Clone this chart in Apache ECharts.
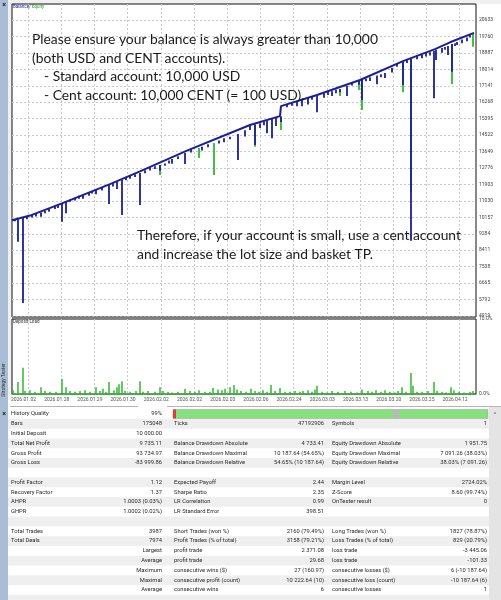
<!DOCTYPE html>
<html><head><meta charset="utf-8">
<script src="https://cdn.jsdelivr.net/npm/echarts@6/dist/echarts.min.js"></script>
<style>html,body{margin:0;padding:0;background:#fff;}#c{width:501px;height:600px;}</style>
</head><body><div id="c"></div>
<script>
// ---------- data ----------
const dateLabels = ['2026.01.02','2026.01.28','2026.01.29','2026.01.30','2026.02.02','2026.02.02','2026.02.03','2026.02.06','2026.02.24','2026.03.03','2026.03.13','2026.03.20','2026.03.25','2026.04.12'];
const dateTickPos = [16, 49.2, 82.4, 115.6, 148.8, 182, 215.2, 248.4, 281.6, 314.8, 348, 381.2, 414.4, 447.6];
const yTickLabels = [4919, 5792, 6665, 7538, 8411, 9284, 10157, 11030, 11903, 12776, 13649, 14522, 15395, 16268, 17141, 18014, 18887, 19760, 20633];
const loadTicks = [0, 10];

const balanceX = [0, 18, 50, 98, 128, 175, 238, 268, 269, 305, 348, 391, 423, 438, 462];
const balanceY = [10000, 10250, 10900, 11920, 12600, 13700, 15060, 15530, 16060, 16650, 17450, 18450, 19090, 19450, 19950];

// equity spikes: position, start (balance level), lowest blue, lowest green
const spikeX =      [6, 11, 20, 24, 29, 37, 43, 50, 54, 63, 71, 77, 84, 90, 97, 105, 110, 118, 128, 138, 148, 153, 160, 173, 187, 190, 202, 212, 226, 233, 243, 248, 255, 260, 264, 269, 285, 290, 296, 305, 312, 320, 328, 335, 347, 350, 358, 365, 373, 380, 391, 399, 405, 414, 422, 424, 430, 436, 440, 445, 450, 455, 461,
                     3, 15, 33, 46, 58, 67, 80, 101, 114, 123, 133, 143, 157, 166, 179, 196, 207, 218, 238, 252, 275, 280, 300, 316, 324, 340, 354, 369, 385, 395, 410, 418, 433, 443, 458];
const spikeTop =    [10066, 10119, 10280, 10330, 10411, 10600, 10740, 10916, 11006, 11200, 11350, 11480, 11632, 11750, 11898, 12058, 12137, 12380, 12509, 12800, 12934, 13013, 13250, 13571, 13836, 13900, 14102, 14350, 14580, 14780, 15084, 15150, 15296, 15376, 15450, 15509, 16320, 16400, 16500, 16624, 16750, 16850, 16969, 17128, 17394, 17447, 17600, 17686, 17819, 18100, 18403, 18562, 18750, 18900, 18987, 19040, 19150, 19252, 19359, 19465, 19600, 19700, 19943,
                     10060, 10200, 10500, 10800, 11100, 11300, 11560, 11980, 12270, 12440, 12660, 12870, 13180, 13400, 13780, 14040, 14230, 14430, 15060, 15250, 16170, 16250, 16560, 16810, 16930, 17300, 17530, 17750, 18300, 18520, 18790, 18920, 19200, 19400, 19850];
const spikeBlueLow= [8861, 5606, 10150, 10200, 10188, 10450, 10600, 9923, 10369, 11050, 11150, 11300, 11378, 11580, 10863, 11659, 10278, 12200, 10810, 12650, 12631, 12896, 13000, 12987, null, 13700, null, 14150, 13199, 14450, 13996, 14900, 14617, 14351, 15000, 15217, 16050, 16050, 16150, 15732, 16500, 16600, 16800, 16597, 17200, 16385, 17400, 17219, 17553, 17850, 17182, 8914, 18550, 18700, 16475, 18509, 18900, 18774, 17888, 19300, 19400, 19500, null,
                     9950, 10050, 10380, 10650, 10980, 11150, 11420, 11800, 12120, 12300, 12500, 12720, 13020, 13250, 13600, 13880, 14080, 14300, 14800, 15050, 16000, 16080, 16400, 16650, 16750, 17150, 17380, 17600, 18150, 18350, 18600, 18750, 19050, 19250, 19700];
const spikeGreenLow=[null, null, null, null, null, null, null, null, null, null, null, null, null, null, null, null, null, null, null, null, 12403, null, null, null, 13305, null, 12403, null, null, null, 13900, null, null, null, null, 14792, null, null, null, null, null, null, 16600, null, 16916, 15854, null, null, null, null, 16794, 11500, null, null, null, null, null, null, 17219, null, null, null, 19215,
                     null, null, null, null, null, null, null, null, null, null, null, null, null, null, null, null, null, null, null, null, null, null, null, null, null, null, null, null, null, null, null, null, null, null, null];

// deposit load (%)
const loadX = [1, 6, 11, 13, 18, 23, 29, 33, 38, 44, 50, 54, 58, 63, 68, 73, 78, 84, 88, 91, 94, 97, 102, 105, 107, 110, 113, 118, 124, 128, 131, 136, 143, 148, 151, 156, 160, 166, 173, 178, 183, 187, 193, 198, 201, 206, 210, 213, 218, 222, 225, 229, 234, 239, 243, 247, 251, 255, 259, 263, 268, 273, 278, 283, 288, 291, 296, 300, 303, 305, 310, 315, 320, 326, 333, 339, 345, 350, 356, 360, 364, 369, 373, 378, 383, 386, 390, 394, 399, 401, 405, 410, 416, 422, 425, 430, 434, 439, 442, 447, 452, 458, 461];
const loadVal = [0.5, 1.6, 3.5, 0.4, 0.5, 0.3, 0.9, 0.4, 0.3, 0.3, 2.0, 0.9, 0.4, 0.3, 0.4, 0.5, 0.3, 0.9, 0.4, 0.7, 0.3, 1.6, 0.5, 0.9, 1.3, 1.7, 0.4, 0.3, 0.4, 1.7, 0.3, 0.4, 0.3, 0.9, 0.4, 0.3, 0.2, 0.3, 0.7, 0.4, 0.3, 0.5, 0.3, 0.3, 0.8, 0.6, 0.5, 0.7, 0.9, 1.2, 0.6, 0.4, 0.3, 0.7, 0.4, 0.3, 0.5, 0.3, 1.2, 0.4, 0.8, 0.3, 0.3, 0.4, 0.3, 0.4, 0.5, 0.3, 0.6, 1.1, 0.3, 0.2, 0.4, 0.3, 0.4, 0.3, 0.2, 0.6, 0.4, 0.3, 0.5, 0.3, 0.5, 0.3, 0.2, 0.4, 0.9, 0.3, 2.8, 1.1, 0.3, 0.3, 0.4, 1.6, 0.4, 0.3, 0.2, 0.9, 0.5, 0.3, 0.2, 0.3, 0.4];

// report table
const col1 = [['History Quality','99%'],['Bars','175048'],['Initial Deposit','10 000.00'],['Total Net Profit','9 735.11'],['Gross Profit','93 734.97'],['Gross Loss','-83 999.86'],['',''],['Profit Factor','1.12'],['Recovery Factor','1.37'],['AHPR','1.0003 (0.03%)'],['GHPR','1.0002 (0.02%)'],['',''],['Total Trades','3987'],['Total Deals','7974'],['','Largest'],['','Average'],['','Maximum'],['','Maximal'],['','Average'],['','']];
const col2 = [['',''],['Ticks','47192906'],['',''],['Balance Drawdown Absolute','4 733.41'],['Balance Drawdown Maximal','10 187.64 (54.65%)'],['Balance Drawdown Relative','54.65% (10 187.64)'],['',''],['Expected Payoff','2.44'],['Sharpe Ratio','2.35'],['LR Correlation','0.99'],['LR Standard Error','398.51'],['',''],['Short Trades (won %)','2160 (79.49%)'],['Profit Trades (% of total)','3158 (79.21%)'],['profit trade','2 371.08'],['profit trade','29.68'],['consecutive wins ($)','27 (160.97)'],['consecutive profit (count)','10 222.64 (10)'],['consecutive wins','6'],['','']];
const col3 = [['',''],['Symbols','1'],['',''],['Equity Drawdown Absolute','1 951.75'],['Equity Drawdown Maximal','7 091.26 (38.03%)'],['Equity Drawdown Relative','38.03% (7 091.26)'],['',''],['Margin Level','2724.02%'],['Z-Score','8.60 (99.74%)'],['OnTester result','0'],['',''],['',''],['Long Trades (won %)','1827 (78.87%)'],['Loss Trades (% of total)','829 (20.79%)'],['loss trade','-3 445.06'],['loss trade','-101.33'],['consecutive losses ($)','6 (-10 187.64)'],['consecutive loss (count)','-10 187.64 (6)'],['consecutive losses','1'],['','']];

const noteTop = ['Please ensure your balance is always greater than 10,000', '(both USD and CENT accounts).', '- Standard account: 10,000 USD', '- Cent account: 10,000 CENT (= 100 USD).'];
const noteBottom = ['Therefore, if your account is small, use a cent account', 'and increase the lot size and basket TP.'];

// ---------- drawing ----------
const BLUE = '#1b1f94', GREEN = '#2fb82f';
const chart = echarts.init(document.getElementById('c'), null, {renderer: 'canvas'});

function spikeSeries(lows, color, z) {
  const data = [];
  spikeX.forEach((x, i) => { if (lows[i] != null) data.push([x, spikeTop[i], lows[i]]); });
  return {
    type: 'custom', xAxisIndex: 0, yAxisIndex: 0, z: z, silent: true, data: data,
    encode: {x: 0, y: [1, 2]},
    renderItem: (params, api) => {
      const a = api.coord([api.value(0), api.value(1)]);
      const b = api.coord([api.value(0), api.value(2)]);
      return {type: 'line', shape: {x1: a[0], y1: a[1], x2: b[0], y2: b[1]},
        style: {stroke: color, lineWidth: 1.8}};
    }
  };
}

const G = [];
const tf = (px) => px + 'px Roboto';
// frame pieces
G.push({type: 'rect', z: -5, shape: {x: 0, y: 0, width: 501, height: 4}, style: {fill: '#f0f0f0'}});
G.push({type: 'rect', z: -5, shape: {x: 8, y: 0, width: 4, height: 400}, style: {fill: '#f0f0f0'}});
G.push({type: 'rect', z: 10, shape: {x: 0, y: 0, width: 8, height: 600}, style: {fill: '#a9bdd7'}});
G.push({type: 'text', z: 11, x: 4, y: 5, style: {text: '×', font: 'bold 7px Roboto', fill: '#222', textAlign: 'center', textVerticalAlign: 'middle'}});
G.push({type: 'text', z: 11, x: 4, y: 414, style: {text: '×', font: 'bold 7px Roboto', fill: '#222', textAlign: 'center', textVerticalAlign: 'middle'}});
G.push({type: 'text', z: 11, x: 4, y: 380, rotation: Math.PI / 2, style: {text: 'Strategy Tester', font: '5px Roboto', fill: '#333', textAlign: 'center', textVerticalAlign: 'middle'}});
G.push({type: 'rect', z: 20, shape: {x: 12, y: 316.5, width: 464, height: 2}, style: {fill: '#7a7a7a'}});
// legends inside panels
G.push({type: 'text', z: 20, x: 13, y: 7, style: {text: 'Balance', font: '4.5px Roboto', fill: '#2030b0', textVerticalAlign: 'middle'}});
G.push({type: 'text', z: 20, x: 29, y: 7, style: {text: '/', font: '4.5px Roboto', fill: '#555', textVerticalAlign: 'middle'}});
G.push({type: 'text', z: 20, x: 32, y: 7, style: {text: 'Equity', font: '4.5px Roboto', fill: '#2a9a2a', textVerticalAlign: 'middle'}});
G.push({type: 'text', z: 20, x: 13, y: 322, style: {text: 'Deposit Load', font: '4.5px Roboto', fill: '#333', textVerticalAlign: 'middle'}});
// notes
const noteFont = '13.85px Lato';
[[32, 40], [32, 58.5], [44, 77], [44, 96]].forEach((p, i) => {
  G.push({type: 'text', z: 50, x: p[0], y: p[1], style: {text: noteTop[i], font: noteFont, fill: '#1a1a1a', textVerticalAlign: 'middle'}});
});
[[137, 236], [137, 255]].forEach((p, i) => {
  G.push({type: 'text', z: 50, x: p[0], y: p[1], style: {text: noteBottom[i], font: noteFont, fill: '#1a1a1a', textVerticalAlign: 'middle'}});
});
// tab strip line
G.push({type: 'line', z: 5, shape: {x1: 10, y1: 406.5, x2: 138, y2: 406.5}, style: {stroke: '#b5b5b5', lineWidth: 1}});
G.push({type: 'line', z: 5, shape: {x1: 167, y1: 406.5, x2: 501, y2: 406.5}, style: {stroke: '#b5b5b5', lineWidth: 1}});
// table
const R0 = 414, RH = 9.77;
for (let i = 0; i < col1.length; i++) {
  const cy = R0 + RH * i;
  if (i % 2 === 1) G.push({type: 'rect', z: 1, shape: {x: 8, y: cy - RH / 2, width: 481, height: RH}, style: {fill: '#efefef'}});
  const cells = [[col1[i][0], 11, 'left'], [col1[i][1], 162, 'right'], [col2[i][0], 174, 'left'], [col2[i][1], 324, 'right'], [col3[i][0], 332, 'left'], [col3[i][1], 487, 'right']];
  cells.forEach(c => {
    if (c[0]) G.push({type: 'text', z: 3, x: c[1], y: cy, style: {text: c[0], font: tf(5.8), fill: '#2a2a2a', textAlign: c[2], textVerticalAlign: 'middle'}});
  });
}
// history quality bar
G.push({type: 'rect', z: 3, shape: {x: 173, y: 409.5, width: 315, height: 9}, style: {fill: '#86e07e', stroke: '#9a9a9a', lineWidth: 0.5}});
G.push({type: 'rect', z: 4, shape: {x: 173, y: 409.5, width: 3, height: 9}, style: {fill: '#e23a3a'}});
G.push({type: 'rect', z: 4, shape: {x: 393, y: 409.5, width: 6, height: 9}, style: {fill: '#b8b8b8'}});
// scrollbar
G.push({type: 'rect', z: 2, shape: {x: 489, y: 407, width: 12, height: 193}, style: {fill: '#e4e4e4'}});
G.push({type: 'text', z: 3, x: 495, y: 414, style: {text: '^', font: '6px Roboto', fill: '#555', textAlign: 'center', textVerticalAlign: 'middle'}});

const dashed = {show: true, lineStyle: {type: [2, 2], color: '#c9c9c9', width: 1}};

chart.setOption({
  animation: false,
  textStyle: {fontFamily: 'Roboto'},
  grid: [
    {left: 12, top: 4, width: 464, height: 313, show: true, borderColor: '#111', borderWidth: 1, backgroundColor: '#fff'},
    {left: 12, top: 319, width: 464, height: 75, show: true, borderColor: '#111', borderWidth: 1, backgroundColor: '#fff'}
  ],
  xAxis: [
    {type: 'value', gridIndex: 0, min: 0, max: 464, axisLine: {show: false}, axisTick: {show: false, customValues: dateTickPos}, axisLabel: {show: false, customValues: dateTickPos}, splitLine: dashed},
    {type: 'value', gridIndex: 1, min: 0, max: 464, axisLine: {show: true, onZero: false, lineStyle: {color: GREEN, width: 1}}, axisTick: {show: false, customValues: dateTickPos},
      axisLabel: {customValues: dateTickPos, formatter: (v) => dateLabels[dateTickPos.indexOf(v)] || '', fontSize: 5, color: '#555', margin: 3, padding: [0, 9, 0, 0]}, splitLine: dashed}
  ],
  yAxis: [
    {type: 'value', gridIndex: 0, position: 'right', min: 4866, max: 21483, axisLine: {show: false}, axisTick: {show: false, customValues: yTickLabels},
      axisLabel: {customValues: yTickLabels, formatter: v => String(v), fontSize: 5, color: '#444', margin: 3}, splitLine: dashed},
    {type: 'value', gridIndex: 1, position: 'right', min: 0, max: 10, axisLine: {show: false}, axisTick: {show: false, customValues: loadTicks},
      axisLabel: {customValues: loadTicks, formatter: v => v.toFixed(1) + '%', fontSize: 5, color: '#444', margin: 3}, splitLine: {show: false}}
  ],
  graphic: G,
  series: [
    spikeSeries(spikeGreenLow, GREEN, 2),
    {type: 'line', xAxisIndex: 0, yAxisIndex: 0, z: 3, symbol: 'none', silent: true,
      data: balanceX.map((x, i) => [x, balanceY[i]]), lineStyle: {color: BLUE, width: 2}},
    spikeSeries(spikeBlueLow, BLUE, 4),
    {type: 'bar', xAxisIndex: 1, yAxisIndex: 1, barWidth: 1.5, silent: true,
      data: loadX.map((x, i) => [x, loadVal[i]]), itemStyle: {color: GREEN}}
  ]
});
</script></body></html>
